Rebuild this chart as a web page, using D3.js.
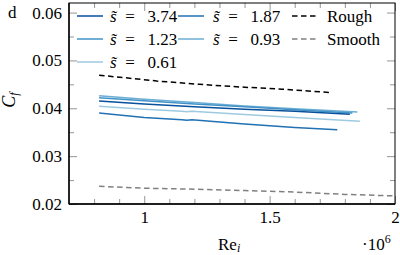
<!DOCTYPE html>
<html>
<head>
<meta charset="utf-8">
<script src="https://cdn.jsdelivr.net/npm/d3@7"></script>
</head>
<body style="margin:0;background:#fff">
<svg id="c" width="400" height="255"></svg>
<script>
// ---- data ----
const xTicks = [1, 1.5, 2];
const xTickLabels = ["1", "1.5", "2"];
const xMinor = [0.8, 0.9, 1.1, 1.2, 1.3, 1.4, 1.6, 1.7, 1.8, 1.9];
const yTicks = [0.02, 0.03, 0.04, 0.05, 0.06];
const yTickLabels = ["0.02", "0.03", "0.04", "0.05", "0.06"];
const yMinor = [0.025, 0.035, 0.045, 0.055];

const seriesNames = ["s̃ = 3.74", "s̃ = 1.87", "s̃ = 1.23", "s̃ = 0.93", "s̃ = 0.61", "Rough", "Smooth"];
const s374 = [[0.82,0.0415],[1.0,0.0409],[1.2,0.0403],[1.4,0.0398],[1.6,0.0394],[1.82,0.03875]];
const s187 = [[0.82,0.0390],[1.0,0.0381],[1.15,0.0376],[1.17,0.0375],[1.19,0.0376],[1.4,0.0367],[1.6,0.0360],[1.77,0.0355]];
const s123 = [[0.82,0.0422],[1.0,0.0416],[1.2,0.0409],[1.4,0.0403],[1.6,0.0397],[1.83,0.0390]];
const s093 = [[0.82,0.0426],[1.0,0.0419],[1.2,0.0412],[1.4,0.0405],[1.6,0.0399],[1.85,0.0392]];
const s061 = [[0.82,0.0404],[1.0,0.0398],[1.15,0.0394],[1.17,0.0393],[1.19,0.0394],[1.4,0.0387],[1.6,0.0381],[1.86,0.0373]];
const rough = [[0.82,0.0469],[0.92,0.0464],[1.05,0.0457],[1.22,0.0450],[1.4,0.0444],[1.55,0.0440],[1.74,0.0433]];
const smooth = [[0.82,0.0237],[1.0,0.0233],[1.2,0.0231],[1.4,0.0228],[1.6,0.0225],[1.8,0.0220],[2.0,0.0217]];

const colors = ["#08519c", "#2171b5", "#4292c6", "#6baed6", "#9ecae1", "#000000", "#808080"];
// ---- chart ----
const FONT = "Liberation Serif";
const svg = d3.select("#c");
const L = 69, R = 395, T = 3, B = 204;
const x = d3.scaleLinear().domain([0.7, 2.0]).range([L, R]);
const y = d3.scaleLinear().domain([0.02, 0.062]).range([B, T]);

const series = [s374, s187, s123, s093, s061, rough, smooth];
const dashed = [false, false, false, false, false, true, true];
const order = [4, 3, 2, 0, 1, 5, 6];

const line = d3.line().x(d => x(d[0])).y(d => y(d[1]));
const g = svg.append("g");
order.forEach(i => {
  g.append("path").datum(series[i]).attr("d", line)
    .attr("fill", "none").attr("stroke", colors[i])
    .attr("stroke-width", 1.5)
    .attr("stroke-dasharray", dashed[i] ? "5.5,3.5" : null);
});

function styleAxis(sel) {
  sel.attr("font-family", FONT).attr("font-size", 17);
  sel.select(".domain").remove();
  sel.selectAll(".tick line").attr("stroke", "#8a8a8a").attr("stroke-width", 0.9);
  sel.selectAll("text").attr("font-family", FONT).attr("font-size", 17).attr("fill", "#000");
}
// bottom
const xb = svg.append("g").attr("transform", `translate(0,${B})`)
  .call(d3.axisBottom(x).tickValues(xTicks).tickSize(-8).tickPadding(7).tickFormat((d, i) => xTickLabels[i]));
styleAxis(xb);
const xbm = svg.append("g").attr("transform", `translate(0,${B})`)
  .call(d3.axisBottom(x).tickValues(xMinor).tickSize(-5).tickFormat(""));
styleAxis(xbm);
const xt = svg.append("g").attr("transform", `translate(0,${T})`)
  .call(d3.axisTop(x).tickValues(xTicks).tickSize(-8).tickFormat(""));
styleAxis(xt);
const xtm = svg.append("g").attr("transform", `translate(0,${T})`)
  .call(d3.axisTop(x).tickValues(xMinor).tickSize(-5).tickFormat(""));
styleAxis(xtm);
// left
const yl = svg.append("g").attr("transform", `translate(${L},0)`)
  .call(d3.axisLeft(y).tickValues(yTicks).tickSize(-8).tickPadding(7).tickFormat((d, i) => yTickLabels[i]));
styleAxis(yl);
const ylm = svg.append("g").attr("transform", `translate(${L},0)`)
  .call(d3.axisLeft(y).tickValues(yMinor).tickSize(-5).tickFormat(""));
styleAxis(ylm);
const yr = svg.append("g").attr("transform", `translate(${R},0)`)
  .call(d3.axisRight(y).tickValues(yTicks).tickSize(-8).tickFormat(""));
styleAxis(yr);
const yrm = svg.append("g").attr("transform", `translate(${R},0)`)
  .call(d3.axisRight(y).tickValues(yMinor).tickSize(-5).tickFormat(""));
styleAxis(yrm);

// frame
svg.append("rect").attr("x", L).attr("y", T).attr("width", R - L).attr("height", B - T)
  .attr("fill", "none").attr("stroke", "#000").attr("stroke-width", 1);
svg.append("line").attr("x1", L).attr("x2", L).attr("y1", T).attr("y2", B).attr("stroke", "#000").attr("stroke-width", 1.4);
svg.append("line").attr("x1", L).attr("x2", R).attr("y1", B).attr("y2", B).attr("stroke", "#000").attr("stroke-width", 1.4);

function txt(parent, xx, yy, size) {
  return parent.append("text").attr("x", xx).attr("y", yy)
    .attr("font-family", FONT).attr("font-size", size).attr("fill", "#000");
}

// legend
const legX = [[77, 103, 110], [178, 204, 213], [292, 317, 327]];
const legY = [16, 39, 62];
const legPos = [[0,0],[0,1],[1,0],[1,1],[2,0],[0,2],[1,2]]; // [row, col]
seriesNames.forEach((name, i) => {
  const [r, c] = legPos[i];
  const yy = legY[r];
  const [x0, x1, tx] = legX[c];
  svg.append("line").attr("x1", x0).attr("x2", x1).attr("y1", yy).attr("y2", yy)
    .attr("stroke", colors[i]).attr("stroke-width", 1.5)
    .attr("stroke-dasharray", dashed[i] ? "5.5,3.5" : null);
  const t = txt(svg, tx, yy + 6, 17);
  if (name.startsWith("s̃")) {
    t.append("tspan").attr("font-style", "italic").text("s̃");
    t.append("tspan").text("\u2002=\u2002" + name.slice(4));
  } else {
    t.text(name);
  }
});

// labels
txt(svg, 8, 18, 17).text("d");
const cf = txt(svg, 0, 0, 18).attr("transform", "translate(15,100) rotate(-90)")
  .attr("text-anchor", "middle");
cf.append("tspan").attr("font-style", "italic").text("C");
cf.append("tspan").attr("font-style", "italic").attr("font-size", 12).attr("dy", 3).text("f");

const re = txt(svg, 218, 250, 17);
re.append("tspan").text("Re");
re.append("tspan").attr("font-style", "italic").attr("font-size", 12).attr("dy", 2).text("i");

const ex = txt(svg, 362, 250, 17);
ex.append("tspan").text("·10");
ex.append("tspan").attr("font-size", 12).attr("dy", -7).text("6");
</script>
</body>
</html>
